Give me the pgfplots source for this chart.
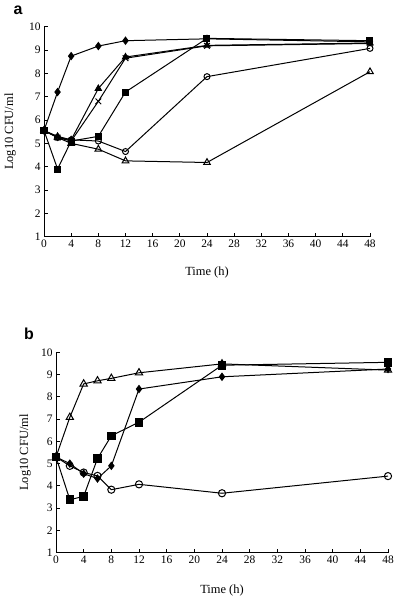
\documentclass[border=0pt]{standalone}
\usepackage{fontspec}
\setmainfont{Liberation Serif}
\newfontfamily\labelfont{Liberation Sans}
\usepackage{pgfplots}
\pgfplotsset{compat=1.18}
\begin{document}
\begin{tikzpicture}
\path[use as bounding box] (0bp,0bp) rectangle (400bp,601bp);
\pgfplotsset{myax/.style={scale only axis, axis lines=left,
  axis line style={-, line width=1bp},
  xmin=0,xmax=48,ymin=1,ymax=10, xtick={0,4,...,48}, ytick={1,...,10},
  tick align=inside, major tick length=4bp, tick style={line width=0.9bp, black},
  /pgf/number format/assume math mode=true,
  tick label style={font=\fontsize{11.5}{13}\selectfont},
  label style={font=\fontsize{12.5}{14}\selectfont},
  xlabel={Time (h)}, ylabel={Log10 CFU/ml},
  every axis plot/.append style={black, line width=1bp, mark options={solid}},
  clip=false}}
% Panel a
\begin{axis}[myax, at={(44bp,364.3bp)}, anchor=south west, width=326bp, height=210bp,
  xlabel style={at={(axis description cs:0.5,-0.171)}, anchor=center},
  ylabel style={at={(axis description cs:-0.104,0.5)}, anchor=center}]
\addplot[mark=diamond*, mark size=3.5bp, mark options={fill=black}] coordinates {(0,5.55)(2,7.2)(4,8.74)(8,9.17)(12,9.40)(24,9.48)(48,9.35)};
\addplot[mark=triangle*, mark size=3.5bp, mark options={fill=black}] coordinates {(0,5.55)(2,5.3)(4,5.15)(8,7.35)(12,8.7)(24,9.2)(48,9.3)};
\addplot[mark=x, mark size=4bp] coordinates {(0,5.55)(2,5.25)(4,5.1)(8,6.8)(12,8.65)(24,9.18)(48,9.28)};
\addplot[mark=square*, mark size=3bp, mark options={fill=black}] coordinates {(0,5.55)(2,3.9)(4,5.1)(8,5.3)(12,7.2)(24,9.5)(48,9.4)};
\addplot[mark=o, mark size=3bp, mark options={fill=white}] coordinates {(0,5.55)(2,5.25)(4,5.15)(8,5.1)(12,4.65)(24,7.86)(48,9.07)};
\addplot[mark=triangle, mark size=3.8bp, mark options={fill=white}] coordinates {(0,5.55)(2,5.25)(4,5.0)(8,4.75)(12,4.25)(24,4.18)(48,8.07)};
\end{axis}
\node[font=\labelfont\bfseries\fontsize{16}{18}\selectfont] at (18bp,591bp) {a};
% Panel b
\begin{axis}[myax, at={(56bp,48.3bp)}, anchor=south west, width=332bp, height=200.4bp,
  xlabel style={at={(axis description cs:0.5,-0.19)}, anchor=center},
  ylabel style={at={(axis description cs:-0.093,0.5)}, anchor=center}]
\addplot[mark=triangle, mark size=4.2bp, mark options={fill=white}] coordinates {(0,5.3)(2,7.08)(4,8.58)(6,8.72)(8,8.83)(12,9.08)(24,9.48)(48,9.2)};
\addplot[mark=diamond*, mark size=3.5bp, mark options={fill=black}] coordinates {(0,5.3)(2,5.0)(4,4.55)(6,4.33)(8,4.9)(12,8.35)(24,8.9)(48,9.25)};
\addplot[mark=square*, mark size=3.8bp, mark options={fill=black}] coordinates {(0,5.3)(2,3.38)(4,3.53)(6,5.23)(8,6.25)(12,6.86)(24,9.42)(48,9.55)};
\addplot[mark=o, mark size=3.6bp, mark options={fill=white}] coordinates {(0,5.3)(2,4.9)(4,4.6)(6,4.45)(8,3.83)(12,4.07)(24,3.67)(48,4.44)};
\end{axis}
\node[font=\labelfont\bfseries\fontsize{16}{18}\selectfont] at (29bp,267bp) {b};
\end{tikzpicture}
\end{document}
